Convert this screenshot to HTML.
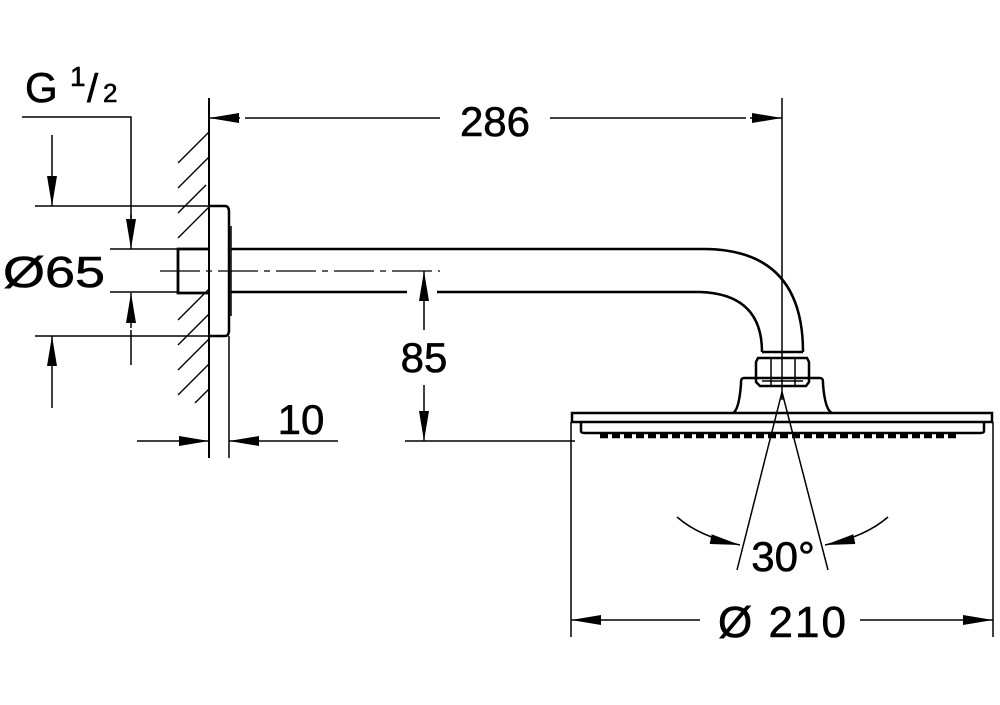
<!DOCTYPE html><html><head><style>body{margin:0;background:#fff}svg{display:block}text{font-family:"Liberation Sans",sans-serif;fill:#000}</style></head><body>
<svg width="1000" height="705" viewBox="0 0 1000 705" xmlns="http://www.w3.org/2000/svg">
<defs><marker id="a" viewBox="0 0 30 10" refX="30" refY="5" markerWidth="30" markerHeight="10" markerUnits="userSpaceOnUse" orient="auto"><path d="M0,0L30,5L0,10z"/></marker></defs>
<g stroke="#000" fill="none" stroke-width="1.5">
<g stroke-width="1.4">
<path d="M178,163l31,-31M178,188l31,-31M178,213l28,-28M178,238l31,-31M178,320l31,-31M178,345l31,-31M178,370l31,-31M178,395l31,-31M195,403l14,-14"/>
</g>
<line x1="209" y1="98" x2="209" y2="458" stroke-width="2"/>
<line x1="229" y1="336" x2="229" y2="458"/>
<path d="M209,206H225Q229,206 229,212V330Q229,336 225,336H209" stroke-width="2.5"/>
<line x1="231" y1="226" x2="231" y2="316"/>
<path d="M209,249H178V293H209" stroke-width="2.8"/>
<path d="M231,249H705Q803,250 803,352" stroke-width="2.5"/>
<path d="M231,292H407M437,292H700Q762,294 762,352" stroke-width="2.5"/>
<line x1="160" y1="271" x2="440" y2="271" stroke-dasharray="40,6,6,6" stroke-width="1.2"/>
<path d="M762,352H803M758,358H807L809,362V382L806,386H760L756,382V362Z" stroke-width="2.5"/>
<line x1="771" y1="358" x2="771" y2="386"/><line x1="795" y1="358" x2="795" y2="386"/>
<path d="M744,378H820Q823,378 823,382V384Q825,410 832,413M744,378Q741,378 741,382V384Q739,410 733,413" stroke-width="2.5"/>
<line x1="762" y1="381" x2="803" y2="381"/>
<rect x="572" y="413" width="420" height="9" stroke-width="2.5"/>
<path d="M581,422V431Q581,433 585,433H980Q984,433 984,431V422" stroke-width="2.5"/>
<path d="M600,436H960" stroke-width="4.5" stroke-dasharray="8,4"/>
<line x1="782" y1="98" x2="782" y2="400"/>
<line x1="782" y1="392" x2="737" y2="570"/><line x1="782" y1="392" x2="828" y2="570"/>
<line x1="245" y1="118" x2="440" y2="118"/><line x1="550" y1="118" x2="746" y2="118"/>
<line x1="240" y1="118" x2="209" y2="118" marker-end="url(#a)"/><line x1="750" y1="118" x2="782" y2="118" marker-end="url(#a)"/>
<path d="M22,117H131V219"/><line x1="131" y1="215" x2="131" y2="249" marker-end="url(#a)"/>
<line x1="131" y1="330" x2="131" y2="365"/><line x1="131" y1="328" x2="131" y2="293" marker-end="url(#a)"/>
<line x1="110" y1="249" x2="178" y2="249"/><line x1="110" y1="292" x2="178" y2="292"/>
<line x1="35" y1="206" x2="209" y2="206"/><line x1="35" y1="336" x2="209" y2="336"/>
<line x1="52" y1="135" x2="52" y2="206" marker-end="url(#a)"/><line x1="52" y1="408" x2="52" y2="336" marker-end="url(#a)"/>
<line x1="424" y1="330" x2="424" y2="271" marker-end="url(#a)"/><line x1="424" y1="385" x2="424" y2="441" marker-end="url(#a)"/>
<line x1="405" y1="441" x2="575" y2="441"/>
<line x1="137" y1="441" x2="209" y2="441" marker-end="url(#a)"/><line x1="338" y1="441" x2="229" y2="441" marker-end="url(#a)"/>
<line x1="571" y1="422" x2="571" y2="637"/><line x1="993" y1="422" x2="993" y2="637"/>
<line x1="700" y1="620" x2="571" y2="620" marker-end="url(#a)"/><line x1="860" y1="620" x2="993" y2="620" marker-end="url(#a)"/>
<path d="M677,517Q700,537 740,545" marker-end="url(#a)"/><path d="M888,517Q865,537 825,545" marker-end="url(#a)"/>
</g>
<g stroke="#000" stroke-width="0.6">
<text x="495" y="136" font-size="42" text-anchor="middle">286</text>
<text x="25" y="102" font-size="42">G</text><text x="70" y="86" font-size="28">1</text><text x="87" y="102" font-size="40">/</text><text x="103" y="102" font-size="26">2</text>
<text x="3" y="287" font-size="44" textLength="102" lengthAdjust="spacingAndGlyphs">Ø65</text>
<text x="424" y="372" font-size="42" text-anchor="middle">85</text>
<text x="301" y="434" font-size="42" text-anchor="middle">10</text>
<text x="783" y="571" font-size="42" text-anchor="middle">30°</text>
<text x="718" y="637" font-size="44" textLength="128" lengthAdjust="spacing">Ø 210</text>
</g>
</svg></body></html>
